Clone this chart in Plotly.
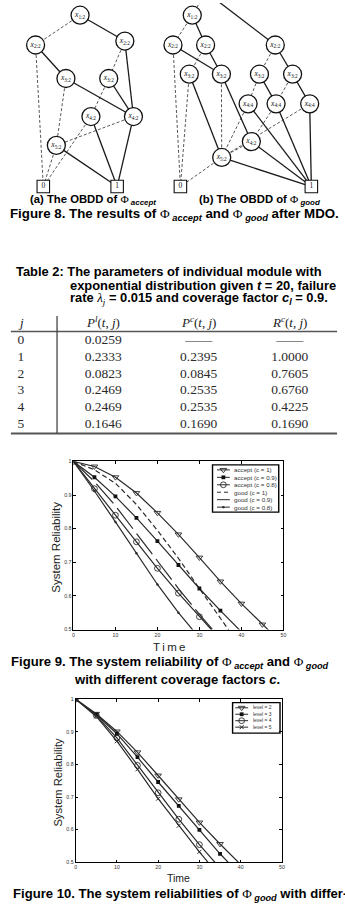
import plotly.graph_objects as go

W, H = 345, 904

# ---------------- Figure 9 data (system reliability vs time) ----------------
time = [0, 5, 10, 15, 20, 25, 30, 35, 40, 45, 50]
accept_c1 = [1.0, 0.985, 0.953, 0.906, 0.847, 0.783, 0.714, 0.643, 0.577, 0.515, 0.455]
accept_c09 = [1.0, 0.953, 0.896, 0.832, 0.763, 0.692, 0.622, 0.556, 0.490, 0.430, 0.370]
accept_c08 = [1.0, 0.919, 0.840, 0.761, 0.682, 0.608, 0.538, 0.470, 0.410, 0.350, 0.300]
good_c1 = [1.0, 0.975, 0.935, 0.872, 0.795, 0.712, 0.622, 0.532, 0.445, 0.370, 0.300]
good_c09 = [1.0, 0.940, 0.868, 0.787, 0.703, 0.622, 0.545, 0.470, 0.400, 0.340, 0.280]
good_c08 = [1.0, 0.912, 0.820, 0.727, 0.634, 0.550, 0.470, 0.400, 0.330, 0.270, 0.220]
fig9_names = ["accept (c = 1)", "accept (c = 0.9)", "accept (c = 0.8)",
              "good (c = 1)", "good (c = 0.9)", "good (c = 0.8)"]

# ---------------- Figure 10 data ----------------
level2 = [1.0, 0.955, 0.901, 0.837, 0.766, 0.693, 0.622, 0.556, 0.490, 0.430, 0.370]
level3 = [1.0, 0.953, 0.894, 0.822, 0.746, 0.673, 0.599, 0.526, 0.460, 0.400, 0.340]
level4 = [1.0, 0.950, 0.881, 0.797, 0.713, 0.632, 0.554, 0.480, 0.410, 0.350, 0.290]
level5 = [1.0, 0.947, 0.871, 0.785, 0.695, 0.612, 0.532, 0.455, 0.390, 0.330, 0.270]
fig10_names = ["level = 2", "level = 3", "level = 4", "level = 5"]

# ---------------- Table 2 data ----------------
table_j = [0, 1, 2, 3, 4, 5]
table_pl = [0.0259, 0.2333, 0.0823, 0.2469, 0.2469, 0.1646]
table_pc = [None, 0.2395, 0.0845, 0.2535, 0.2535, 0.1690]
table_rc = [None, 1.0000, 0.7605, 0.6760, 0.4225, 0.1690]

# ---------------- Figure 8 OBDD graphs (layout in page pixels) ----------------
nodes = {
    # (a) accept
    "a1": (80, 12.3, "1:2"), "a2L": (35, 42.3, "2:2"), "a2R": (125.3, 38.3, "2:2"),
    "a3L": (65.7, 76, "3:2"), "a3R": (109, 76, "3:2"),
    "a4L": (91, 114.3, "4:2"), "a4R": (134, 114.3, "4:2"), "a5": (56, 143.3, "5:2"),
    # (b) good
    "b1": (193.5, 12.3, "1:2"),
    "b2a": (174, 42.3, "2:2"), "b2b": (207, 42.3, "2:2"), "b2c": (277.5, 42.3, "2:2"),
    "b3a": (190.5, 71.7, "3:2"), "b3b": (223, 71.7, "3:2"), "b3c": (261.5, 71.7, "3:2"), "b3d": (295, 71.7, "3:2"),
    "b4a": (250, 101.5, "4:4"), "b4b": (278.3, 101.5, "4:4"), "b4c": (312.3, 101.5, "4:4"),
    "b42": (253.3, 139.5, "4:2"), "b5": (223.3, 155.5, "5:2"),
}
terminals = {"a0": (42.8, 184.8, "0"), "a1t": (117.5, 184.8, "1"),
             "b0": (181.5, 184.8, "0"), "b1t": (314, 184.8, "1")}
phantom = {"broot": (207.5, -11)}
edges_solid = [("a1", "a2R"), ("a2L", "a3L"), ("a2R", "a4R"), ("a3L", "a4R"), ("a3R", "a4R"),
               ("a4L", "a1t"), ("a4R", "a1t"), ("a5", "a1t"),
               ("broot", "b2c"), ("b1", "b2b"), ("b2a", "b3b"), ("b2b", "b3b"), ("b2c", "b3d"),
               ("b3a", "b5"), ("b3b", "b42"), ("b3c", "b4b"), ("b3d", "b4c"),
               ("b4a", "b1t"), ("b4b", "b1t"), ("b4c", "b1t"), ("b42", "b1t"), ("b5", "b1t")]
edges_dashed = [("a1", "a2L"), ("a2L", "a0"), ("a2R", "a3R"), ("a3L", "a5"), ("a3R", "a4L"),
                ("a4L", "a0"), ("a4R", "a5"), ("a5", "a0"),
                ("broot", "b1"), ("b1", "b2a"), ("b2a", "b0"), ("b2b", "b3a"), ("b2c", "b3c"),
                ("b3a", "b0"), ("b3b", "b5"), ("b3c", "b4a"), ("b3d", "b4b"),
                ("b4a", "b5"), ("b4b", "b42"), ("b4c", "b5"), ("b42", "b5"), ("b5", "b0")]

LINE = "#2a2a2a"
SANS = "Liberation Sans"
SERIF = "Liberation Serif"

fig = go.Figure()


def pos(k):
    for d in (nodes, terminals, phantom):
        if k in d:
            return d[k][0], d[k][1]


def edge_xy(edges):
    xs, ys = [], []
    for a, b in edges:
        xa, ya = pos(a)
        xb, yb = pos(b)
        xs += [xa, xb, None]
        ys += [ya, yb, None]
    return xs, ys


ex, ey = edge_xy(edges_dashed)
fig.add_trace(go.Scatter(x=ex, y=ey, mode="lines", xaxis="x", yaxis="y",
                         line=dict(color="#444", width=0.9, dash="3px,2px"), hoverinfo="skip"))
ex, ey = edge_xy(edges_solid)
fig.add_trace(go.Scatter(x=ex, y=ey, mode="lines", xaxis="x", yaxis="y",
                         line=dict(color="#1a1a1a", width=1.3), hoverinfo="skip"))
fig.add_trace(go.Scatter(
    x=[v[0] for v in nodes.values()], y=[v[1] for v in nodes.values()],
    text=["<i>x</i><sub>%s</sub>" % v[2] for v in nodes.values()],
    mode="markers+text", textposition="middle center", xaxis="x", yaxis="y",
    textfont=dict(family=SERIF, size=7.5, color="#111"),
    marker=dict(symbol="circle", size=18, color="white", line=dict(color="#111", width=1.3)),
    hoverinfo="skip", cliponaxis=False))
fig.add_trace(go.Scatter(
    x=[v[0] for v in terminals.values()], y=[v[1] for v in terminals.values()],
    text=[v[2] for v in terminals.values()],
    mode="markers+text", textposition="middle center", xaxis="x", yaxis="y",
    textfont=dict(family=SERIF, size=7.5, color="#111"),
    marker=dict(symbol="square", size=12.5, color="white", line=dict(color="#111", width=1.1)),
    hoverinfo="skip", cliponaxis=False))

# ---------------- series styles ----------------
tri = dict(symbol="triangle-down-open", size=5.8, color=LINE, line=dict(width=0.9, color=LINE))
sq = dict(symbol="square", size=3.8, color="#111", line=dict(width=0))
cir = dict(symbol="circle-open", size=5.8, color=LINE, line=dict(width=0.9, color=LINE))
dot = dict(symbol="circle", size=2.4, color=LINE, line=dict(width=0))
xm = dict(symbol="x-thin-open", size=4, color=LINE, line=dict(width=1, color=LINE))
nomark = dict(size=0.1, opacity=0)

fig9_series = [
    (accept_c1, tri, "solid"), (accept_c09, sq, "solid"), (accept_c08, cir, "solid"),
    (good_c1, nomark, "5px,3px"), (good_c09, nomark, "26px,6px"), (good_c08, dot, "solid"),
]
for (vals, mk, dash), name in zip(fig9_series, fig9_names):
    mode = "lines" if mk is nomark else "lines+markers"
    fig.add_trace(go.Scatter(x=time, y=vals, name=name, mode=mode, xaxis="x2", yaxis="y2",
                             line=dict(color=LINE, width=1.2, dash=dash), marker=mk))

fig10_series = [(level2, tri), (level3, sq), (level4, cir), (level5, xm)]
for (vals, mk), name in zip(fig10_series, fig10_names):
    fig.add_trace(go.Scatter(x=time, y=vals, name=name, mode="lines+markers", xaxis="x3", yaxis="y3",
                             line=dict(color=LINE, width=1.2), marker=mk))

annotations = []


def txt(x, y, text, size, family=SANS, color="black", xanchor="center", angle=0):
    annotations.append(dict(x=x, y=y, xref="x", yref="y", text=text, showarrow=False,
                            xanchor=xanchor, yanchor="middle", textangle=angle,
                            font=dict(family=family, size=size, color=color)))


# ---------------- manual legends (drawn on a page-pixel overlay axis) ----------------
def legend(box, entries_y, x0, x1, xt, series, names, fsize):
    fig.add_shape(type="rect", xref="x4", yref="y4", x0=box[0], x1=box[1], y0=box[2], y1=box[3],
                  line=dict(color="black", width=1.4), fillcolor="rgba(0,0,0,0)", layer="above")
    for yy, (mk, dash), name in zip(entries_y, series, names):
        xc = (x0 + x1) / 2
        fig.add_trace(go.Scatter(x=[x0, x1], y=[yy, yy], mode="lines", xaxis="x4", yaxis="y4",
                                 line=dict(color=LINE, width=1, dash=dash), hoverinfo="skip"))
        if mk is not nomark:
            fig.add_trace(go.Scatter(x=[xc], y=[yy], mode="markers", xaxis="x4", yaxis="y4",
                                     marker=mk, hoverinfo="skip", cliponaxis=False))
        annotations.append(dict(x=xt, y=yy, xref="x4", yref="y4", text=name, showarrow=False,
                                xanchor="left", yanchor="middle",
                                font=dict(family=SANS, size=fsize, color="#333")))


legend((214, 281, 465, 512.5), [470, 477.5, 485, 492.5, 500, 507.5], 218.5, 231.5, 233.5,
       [(tri, "solid"), (sq, "solid"), (cir, "solid"), (nomark, "4px,3px"), (nomark, "solid"), (dot, "solid")],
       fig9_names, 6.2)
legend((234.3, 282.3, 704.3, 735), [709.5, 716, 722.5, 729], 237, 250, 252.5,
       [(tri, "solid"), (sq, "solid"), (cir, "solid"), (xm, "solid")], fig10_names, 4.9)

PHI = '<span style="font-family:Liberation Serif;font-weight:normal">Φ</span>'

# ---------------- Figure 8 captions ----------------
txt(93, 198, "<b>(a) The OBDD of </b>%s<b><sub><i> accept</i></sub></b>" % PHI, 11.3)
txt(261.5, 198, "<b>(b) The OBDD of </b>%s<b><sub><i> good</i></sub></b>" % PHI, 11.3)
txt(176, 213, "<b>Figure 8. The results of </b>%s<b><sub><i> accept</i></sub> and </b>%s<b><sub><i> good</i></sub> after MDO.</b>" % (PHI, PHI), 13.3)

# ---------------- Table 2 ----------------
TT = 12.9
txt(13.3, 270.5, "<b>Table 2: The parameters of individual module with</b>", TT, xanchor="left")
txt(67.7, 284, "<b>exponential distribution given <i>t</i> = 20, failure</b>", TT, xanchor="left")
txt(67.7, 297.8, "<b>rate </b><span style=\"font-family:Liberation Serif\"><i>λ</i><sub><i>j</i></sub></span><b> = 0.015 and coverage factor <i>c</i><sub><i>l</i></sub> = 0.9.</b>", TT, xanchor="left")

col_x = [20, 103.5, 200, 292.2]
row_y0, row_dy = 340.3, 16.8
header_y = 321.5
hdr = ["<i>j</i>", "<i>P</i><sup><i>l</i></sup>(<i>t</i>, <i>j</i>)",
       "<i>P</i><sup><i>c</i></sup>(<i>t</i>, <i>j</i>)", "<i>R</i><sup><i>c</i></sup>(<i>t</i>, <i>j</i>)"]
for cx, h in zip(col_x, hdr):
    txt(cx, header_y, h, 13, family=SERIF, color="#222")

rows_y = [row_y0 + row_dy * i for i in range(len(table_j))]
fig.add_trace(go.Scatter(x=[col_x[0]] * len(table_j), y=rows_y, text=[str(j) for j in table_j],
                         mode="text", xaxis="x", yaxis="y", hoverinfo="skip",
                         textfont=dict(family=SERIF, size=13.5, color="#2a2a2a")))
for cx, col in zip(col_x[1:], [table_pl, table_pc, table_rc]):
    fig.add_trace(go.Scatter(
        x=[cx] * len(col), y=rows_y,
        text=["%.4f" % v if v is not None else "——" for v in col],
        mode="text", xaxis="x", yaxis="y", hoverinfo="skip",
        textfont=dict(family=SERIF, size=13.5, color="#2a2a2a")))

# table rules (page-pixel positions)
for y_rule, wdt in [(330.7, 1.6), (433.5, 2.0)]:
    fig.add_shape(type="line", xref="x", yref="y", x0=10, x1=340, y0=y_rule, y1=y_rule,
                  line=dict(color="#555", width=wdt))
fig.add_shape(type="line", xref="x", yref="y", x0=56.7, x1=56.7, y0=315, y1=433.5,
              line=dict(color="#444", width=1.3))

# ---------------- axis titles & figure captions ----------------
CAP = 13.1
txt(56, 548, "System Reliability", 11.5, color="#222", angle=-90)
txt(169.5, 648.5, "T\u2009i\u2009m\u2009e", 11.5, color="#222")
txt(171, 664, "<b>Figure 9. The system reliability of </b>%s<b><sub><i> accept</i></sub> and </b>%s<b><sub><i> good</i></sub></b>" % (PHI, PHI), CAP)
txt(178, 681.5, "<b>with different coverage factors <i>c</i>.</b>", CAP)
txt(58, 784.5, "System Reliability", 11.2, color="#222", angle=-90)
txt(180, 881, "Time", 10.5, color="#222")
txt(10, 897.5, "<b>Figure 10. The system reliabilities of </b>%s<b><sub><i> good</i></sub> with differ-</b>" % PHI, CAP, xanchor="left")

fig.update_layout(annotations=annotations)


def frame_axis(domain, anchor, rng, dtick):
    return dict(domain=domain, anchor=anchor, range=rng, dtick=dtick, showgrid=False, zeroline=False,
                showline=True, linecolor="black", linewidth=1, mirror="ticks", ticks="inside",
                ticklen=2.5, tickwidth=0.8, tickcolor="black",
                tickfont=dict(family=SANS, size=5.2, color="#333"), fixedrange=True)


page_x = dict(domain=[0, 1], range=[0, W], visible=False, fixedrange=True)
page_y = dict(domain=[0, 1], range=[H, 0], visible=False, fixedrange=True)

fig.update_layout(
    width=W, height=H, margin=dict(l=0, r=0, t=0, b=0),
    paper_bgcolor="white", plot_bgcolor="rgba(0,0,0,0)", showlegend=False,
    xaxis=dict(page_x, anchor="y"), yaxis=dict(page_y, anchor="x"),
    xaxis4=dict(page_x, anchor="y4"), yaxis4=dict(page_y, anchor="x4"),
    xaxis2=frame_axis([73.3 / W, 285.7 / W], "y2", [0, 50], 10),
    yaxis2=frame_axis([1 - 630.7 / H, 1 - 461.5 / H], "x2", [0.5, 1.0], 0.1),
    xaxis3=frame_axis([75.5 / W, 284.2 / W], "y3", [0, 50], 10),
    yaxis3=frame_axis([1 - 865 / H, 1 - 700.8 / H], "x3", [0.5, 1.0], 0.1),
)

fig.write_html("out.html")
